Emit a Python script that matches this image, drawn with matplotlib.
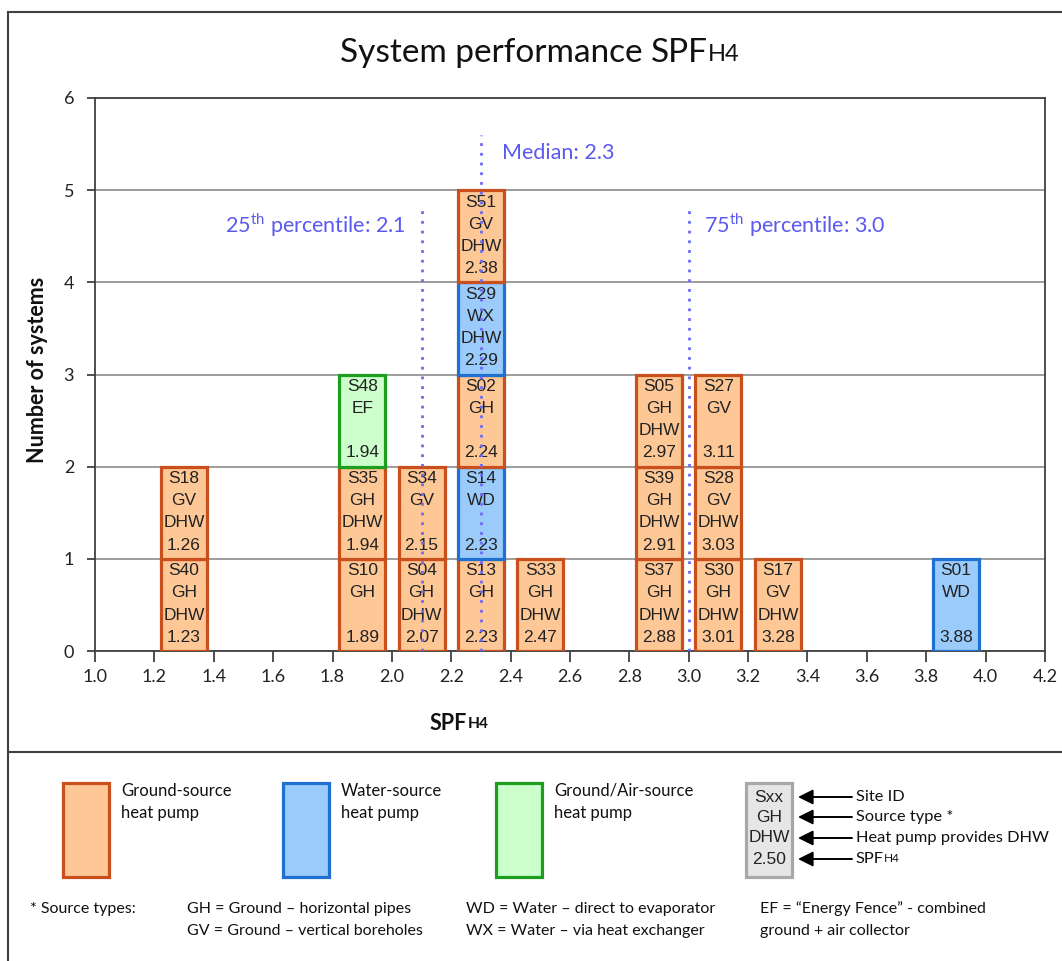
import numpy as np
import matplotlib
matplotlib.use("Agg")
import matplotlib.pyplot as plt
from matplotlib.patches import Rectangle

plt.rcParams['font.family'] = ['Lato', 'DejaVu Sans']
plt.rcParams['mathtext.fontset'] = 'custom'
plt.rcParams['mathtext.rm'] = 'Lato'

# systems, listed bottom-to-top within each 0.2-wide SPF bin
site_ids = ['S40', 'S18', 'S10', 'S35', 'S48', 'S04', 'S34', 'S13', 'S14', 'S02',
            'S29', 'S51', 'S33', 'S37', 'S39', 'S05', 'S30', 'S28', 'S27', 'S17', 'S01']
source = ['GH', 'GV', 'GH', 'GH', 'EF', 'GH', 'GV', 'GH', 'WD', 'GH',
          'WX', 'GV', 'GH', 'GH', 'GH', 'GH', 'GH', 'GV', 'GV', 'GV', 'WD']
has_dhw = [1, 1, 0, 1, 0, 1, 0, 0, 0, 0,
           1, 1, 1, 1, 1, 1, 1, 1, 0, 1, 0]
spf = [1.23, 1.26, 1.89, 1.94, 1.94, 2.07, 2.15, 2.23, 2.23, 2.24,
       2.29, 2.38, 2.47, 2.88, 2.91, 2.97, 3.01, 3.03, 3.11, 3.28, 3.88]

p25, median, p75 = 2.1, 2.3, 3.0
bin_w = 0.2

styles = {
    'ground': ('#FDC896', '#C9501C'),
    'water': ('#9ACBFB', '#1F70D0'),
    'groundair': ('#CCFFCC', '#1E9E1E'),
}
kind = {'GH': 'ground', 'GV': 'ground', 'WD': 'water', 'WX': 'water', 'EF': 'groundair'}
narrow = ['Liberation Sans Narrow', 'Liberation Sans']

W, H = 1062, 961
fig = plt.figure(figsize=(W / 100, H / 100), dpi=100)
fig.patch.set_facecolor('white')

def fx(px):
    return px / W

def fy(py):
    return 1 - py / H

ax = fig.add_axes([fx(95), fy(651), fx(1045) - fx(95), fy(98) - fy(651)])
ax.set_xlim(1.0, 4.2)
ax.set_ylim(0, 6)
ax.set_xticks(np.arange(1.0, 4.21, 0.2))
ax.set_xticklabels([f'{v:.1f}' for v in np.arange(1.0, 4.21, 0.2)])
ax.set_yticks(range(7))
ax.yaxis.grid(True, color='#8c8c8c', linewidth=1.2)
ax.set_axisbelow(True)
for s in ax.spines.values():
    s.set_color('#404040')
    s.set_linewidth(1.3)
ax.tick_params(axis='x', length=8, width=1.3, color='#404040', pad=5, labelsize=13, labelcolor='#222222')
ax.tick_params(axis='y', length=6, width=1.3, color='#404040', pad=9, labelsize=13, labelcolor='#222222')

box_w = 0.155
level = {}
for sid, src, dhw, v in zip(site_ids, source, has_dhw, spf):
    b = int(np.floor(v / bin_w + 1e-9))
    cx = (b + 0.5) * bin_w
    lv = level.get(b, 0)
    level[b] = lv + 1
    fc, ec = styles[kind[src]]
    ax.bar(cx, 1, bottom=lv, width=box_w, color=fc, edgecolor=ec, linewidth=2.3, zorder=3)
    lines = [sid, src, 'DHW' if dhw else '', f'{v:.2f}']
    for i, t in enumerate(lines):
        ax.text(cx, lv + 1 - (0.13 + 0.24 * i), t, ha='center', va='center',
                fontsize=12.5, color='#222222', zorder=4, family=narrow)

line_c = '#6B6BF5'
ax.plot([p25, p25], [0, 4.85], color=line_c, lw=2, linestyle=(0, (1, 2.5)), zorder=5)
ax.plot([median, median], [0, 5.6], color=line_c, lw=2, linestyle=(0, (1, 2.5)), zorder=5)
ax.plot([p75, p75], [0, 4.85], color=line_c, lw=2, linestyle=(0, (1, 2.5)), zorder=5)
txt_c = '#5A5AF0'
ax.text(p25 - 0.055, 4.62, '25$^{\\mathrm{th}}$ percentile: %.1f' % p25, ha='right', va='center',
        fontsize=15.5, color=txt_c)
ax.text(median + 0.07, 5.4, 'Median: %.1f' % median, ha='left', va='center', fontsize=15.5, color=txt_c)
ax.text(p75 + 0.05, 4.62, '75$^{\\mathrm{th}}$ percentile: %.1f' % p75, ha='left', va='center',
        fontsize=15.5, color=txt_c)

# overlay in pixel coordinates for frame, titles and legend
ov = fig.add_axes([0, 0, 1, 1])
ov.set_xlim(0, W)
ov.set_ylim(H, 0)
ov.axis('off')
ov.plot([8, W], [12, 12], color='#404040', lw=1.5)
ov.plot([8, 8], [12, H], color='#404040', lw=1.5)
ov.plot([8, W], [752, 752], color='#404040', lw=1.5)


def spf_label(x, y, size, weight='normal', ha='left'):
    t = ov.text(x, y, 'SPF', fontsize=size, fontweight=weight, ha=ha, va='center', color='#111111')
    ov.annotate('H4', xy=(1, 0.12), xycoords=t, fontsize=size * 0.72, fontweight=weight,
                ha='left', va='bottom', color='#111111')
    return t


t = ov.text(340, 53, 'System performance ', fontsize=24, ha='left', va='center', color='#111111')
t2 = ov.annotate('SPF', xy=(1, 0), xycoords=t, fontsize=24, ha='left', va='bottom', color='#111111')
ov.annotate('H4', xy=(1, 0.1), xycoords=t2, fontsize=17, ha='left', va='bottom', color='#111111')

ov.text(38, 370, 'Number of systems', rotation=90, fontsize=15.5, fontweight='bold',
        ha='center', va='center', color='#111111')
spf_label(430, 723, 15.5, weight='bold')

# legend
leg = [(63, 'ground', 'Ground-source\nheat pump'),
       (283, 'water', 'Water-source\nheat pump'),
       (496, 'groundair', 'Ground/Air-source\nheat pump')]
for x0, k, lab in leg:
    fc, ec = styles[k]
    ov.add_patch(Rectangle((x0, 783), 46, 94, facecolor=fc, edgecolor=ec, lw=2.3))
    ov.text(x0 + 58, 783, lab, fontsize=12, ha='left', va='top', linespacing=1.45, color='#111111')

ov.add_patch(Rectangle((746, 783), 46, 94, facecolor='#E6E6E6', edgecolor='#A8A8A8', lw=2.3))
key_rows = ['Sxx', 'GH', 'DHW', '2.50']
key_y = [797, 817, 838, 859]
key_lab = ['Site ID', 'Source type *', 'Heat pump provides DHW', None]
for r, yy, lab in zip(key_rows, key_y, key_lab):
    ov.text(769, yy, r, fontsize=12.5, ha='center', va='center', color='#222222', family=narrow)
    ov.annotate('', xy=(798, yy), xytext=(852, yy),
                arrowprops=dict(arrowstyle='-|>,head_length=0.9,head_width=0.45', color='black',
                                lw=1.4, shrinkA=0, shrinkB=0))
    if lab:
        ov.text(856, yy, lab, fontsize=11.8, ha='left', va='center', color='#111111')
    else:
        spf_label(856, yy, 11.8)

ov.text(30, 909, '* Source types:', fontsize=11.5, ha='left', va='center', color='#111111')
foot = [(187, 'GH = Ground \u2013 horizontal pipes', 'GV = Ground \u2013 vertical boreholes'),
        (466, 'WD = Water \u2013 direct to evaporator', 'WX = Water \u2013 via heat exchanger'),
        (760, 'EF = \u201cEnergy Fence\u201d - combined', 'ground + air collector')]
for x0, a, b in foot:
    ov.text(x0, 909, a, fontsize=11.5, ha='left', va='center', color='#111111')
    ov.text(x0, 931, b, fontsize=11.5, ha='left', va='center', color='#111111')

fig.savefig('out.png', dpi=100)
